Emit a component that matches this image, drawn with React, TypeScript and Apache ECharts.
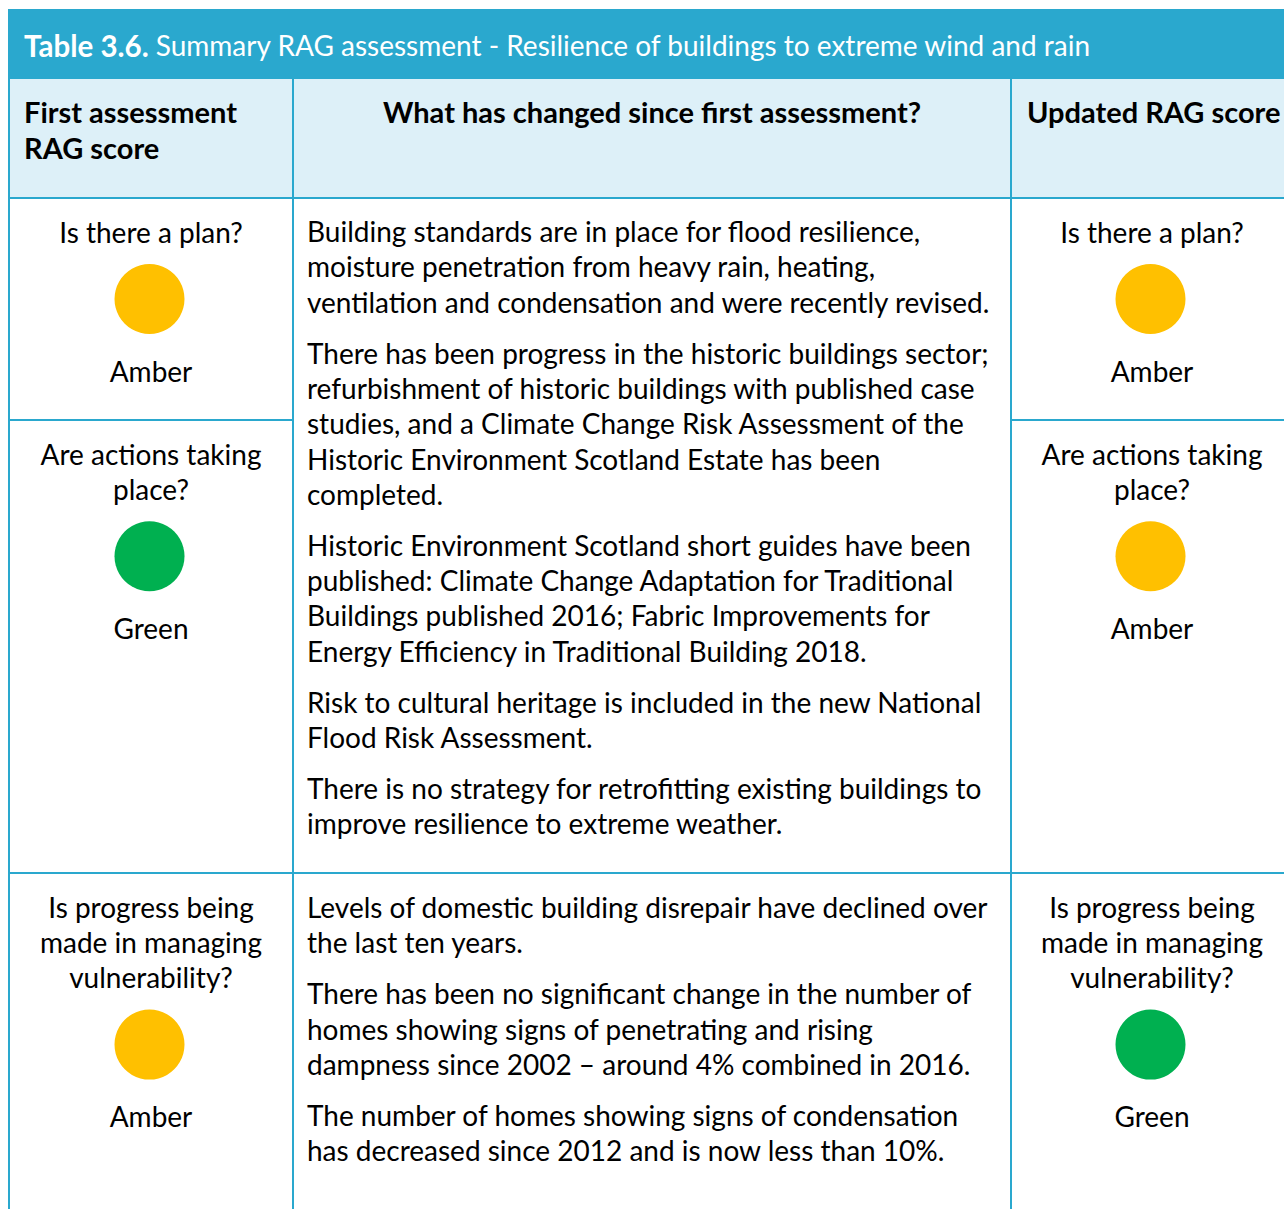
import React, { useEffect, useRef } from "react";
import * as echarts from "echarts";

const titleBold = "Table 3.6.";
const titleRest = " Summary RAG assessment - Resilience of buildings to extreme wind and rain";
const headerLeft = ["First assessment", "RAG score"];
const headerMid = ["What has changed since first assessment?"];
const headerRight = ["Updated RAG score"];
const questions = [
  ["Is there a plan?"],
  ["Are actions taking", "place?"],
  ["Is progress being", "made in managing", "vulnerability?"],
];
const firstScores = ["Amber", "Green", "Amber"];
const updatedScores = ["Amber", "Amber", "Green"];
const evidenceTop = [
  [
    "Building standards are in place for flood resilience,",
    "moisture penetration from heavy rain, heating,",
    "ventilation and condensation and were recently revised.",
  ],
  [
    "There has been progress in the historic buildings sector;",
    "refurbishment of historic buildings with published case",
    "studies, and a Climate Change Risk Assessment of the",
    "Historic Environment Scotland Estate has been",
    "completed.",
  ],
  [
    "Historic Environment Scotland short guides have been",
    "published: Climate Change Adaptation for Traditional",
    "Buildings published 2016; Fabric Improvements for",
    "Energy Efficiency in Traditional Building 2018.",
  ],
  [
    "Risk to cultural heritage is included in the new National",
    "Flood Risk Assessment.",
  ],
  [
    "There is no strategy for retrofitting existing buildings to",
    "improve resilience to extreme weather.",
  ],
];
const evidenceBottom = [
  [
    "Levels of domestic building disrepair have declined over",
    "the last ten years.",
  ],
  [
    "There has been no significant change in the number of",
    "homes showing signs of penetrating and rising",
    "dampness since 2002 \u2013 around 4% combined in 2016.",
  ],
  [
    "The number of homes showing signs of condensation",
    "has decreased since 2012 and is now less than 10%.",
  ],
];

const RAG_COLORS: Record<string, string> = { Amber: "#FFC000", Green: "#00B050", Red: "#E02020" };

const W = 1284;
const H = 1209;
const FONT = "Lato";
const BLUE = "#2AA8CE";
const LIGHT = "#DDF0F8";
const X0 = 9;
const X1 = 293;
const X2 = 1011;
const Y_TITLE = 9;
const Y_HEAD = 79;
const Y_BODY = 198;
const Y_ROW2 = 420;
const Y_ROW3 = 873;
const LH = 35.3;
const PGAP = 51;
const FS = 28;
const FS_HEAD = 29;

function buildGraphic() {
  const els: any[] = [];
  els.push({ type: "rect", shape: { x: X0 - 1, y: Y_TITLE, width: W - X0 + 1, height: Y_HEAD - Y_TITLE }, style: { fill: BLUE } });
  els.push({ type: "rect", shape: { x: X0, y: Y_HEAD, width: W - X0, height: Y_BODY - Y_HEAD }, style: { fill: LIGHT } });
  els.push({
    type: "text",
    x: 24,
    y: 45,
    style: {
      text: `{b|${titleBold}}{r|${titleRest}}`,
      verticalAlign: "middle",
      rich: {
        b: { fontFamily: FONT, fontSize: 29.5, fontWeight: "bold", fill: "#fff" },
        r: { fontFamily: FONT, fontSize: 28, fill: "#fff" },
      },
    },
  });
  const txt = (x: number, y: number, t: string, align: string, bold = false) =>
    els.push({
      type: "text",
      x,
      y,
      style: {
        text: t,
        fontFamily: FONT,
        fontSize: bold ? FS_HEAD : FS,
        fontWeight: bold ? "bold" : "normal",
        fill: "#000",
        align,
        verticalAlign: "middle",
      },
    });
  headerLeft.forEach((t, i) => txt(24, 111.5 + i * 36, t, "left", true));
  headerMid.forEach((t, i) => txt((X1 + X2) / 2, 111.5 + i * 36, t, "center", true));
  headerRight.forEach((t, i) => txt(1027, 111.5 + i * 36, t, "left", true));

  const rowTops = [Y_BODY, Y_ROW2, Y_ROW3];
  const colCenters = [151, 1152];
  [firstScores, updatedScores].forEach((scores, c) => {
    const cx = colCenters[c];
    questions.forEach((q, r) => {
      const top = rowTops[r] + 33.5;
      q.forEach((line, i) => txt(cx, top + i * LH, line, "center"));
      const cy = top + (q.length - 1) * LH + 67.5;
      els.push({ type: "circle", shape: { cx: cx - 1.5, cy, r: 35 }, style: { fill: RAG_COLORS[scores[r]] } });
      txt(cx, cy + 71.5, scores[r], "center");
    });
  });

  const para = (paras: string[][], startY: number) => {
    let y = startY;
    paras.forEach((p) => {
      p.forEach((line, i) => txt(307, y + i * LH, line, "left"));
      y += (p.length - 1) * LH + PGAP;
    });
  };
  para(evidenceTop, Y_BODY + 33);
  para(evidenceBottom, Y_ROW3 + 34);

  const line = (x1: number, y1: number, x2: number, y2: number) =>
    els.push({ type: "line", shape: { x1, y1, x2, y2 }, style: { stroke: BLUE, lineWidth: 2 } });
  line(X0, Y_HEAD, X0, H);
  line(X1, Y_HEAD, X1, H);
  line(X2, Y_HEAD, X2, H);
  line(X0, Y_BODY, W, Y_BODY);
  line(X0, Y_ROW2, X1, Y_ROW2);
  line(X2, Y_ROW2, W, Y_ROW2);
  line(X0, Y_ROW3, W, Y_ROW3);
  return els;
}

export default function App() {
  const ref = useRef<HTMLDivElement>(null);
  useEffect(() => {
    document.body.style.margin = "0";
    const chart = echarts.init(ref.current!, null, { renderer: "svg" });
    chart.setOption({ animation: false, backgroundColor: "#fff", graphic: { elements: buildGraphic() } });
    return () => chart.dispose();
  }, []);
  return <div ref={ref} style={{ width: W, height: H }} />;
}
